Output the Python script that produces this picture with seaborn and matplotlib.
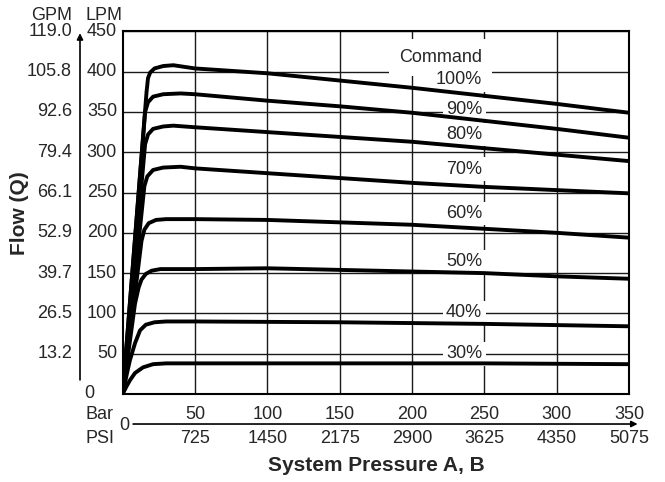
import pandas as pd
import matplotlib.pyplot as plt
import matplotlib.transforms as mtransforms
from matplotlib.patches import FancyArrowPatch
import seaborn as sns

# Axis ticks and labels
bar_ticks = [50, 100, 150, 200, 250, 300, 350]
psi_labels = ['725', '1450', '2175', '2900', '3625', '4350', '5075']
lpm_ticks = [50, 100, 150, 200, 250, 300, 350, 400, 450]
gpm_labels = ['13.2', '26.5', '39.7', '52.9', '66.1', '79.4', '92.6', '105.8', '119.0']

# Flow curves (Bar vs LPM), one per command level
x_30 = [0, 2.5, 5, 8.5, 14, 21, 30, 50, 150, 250, 350]
y_30 = [0, 9, 17, 26, 33, 37, 38, 38, 38, 38, 37]
x_40 = [0, 3, 5, 8.5, 12, 16, 22, 30, 50, 150, 250, 350]
y_40 = [0, 26, 42, 63, 79, 86, 89, 90, 90, 89, 87, 84]
x_50 = [0, 8.5, 11, 13, 16, 20, 26, 50, 100, 150, 200, 250, 300, 350]
y_50 = [0, 112, 132, 142, 149, 153, 155, 155, 156, 154, 152, 150, 146, 143]
x_60 = [0, 13, 15, 18, 23, 30, 50, 100, 150, 200, 250, 300, 350]
y_60 = [0, 190, 204, 212, 216, 217, 217, 216, 213, 210, 205, 200, 194]
x_70 = [0, 15, 17, 21, 28, 40, 50, 100, 150, 200, 250, 300, 350]
y_70 = [0, 258, 270, 278, 281, 282, 280, 274, 268, 262, 257, 253, 249]
x_80 = [0, 15.5, 17.5, 21, 28, 35, 50, 100, 150, 200, 250, 300, 350]
y_80 = [0, 310, 322, 329, 332, 333, 331, 325, 319, 313, 305, 297, 289]
x_90 = [0, 15.5, 17.5, 21, 28, 40, 50, 100, 150, 200, 250, 300, 350]
y_90 = [0, 350, 362, 369, 372, 373, 372, 364, 357, 349, 339, 329, 318]
x_100 = [0, 16.5, 17.5, 19, 22, 28, 35, 50, 100, 150, 200, 250, 300, 350]
y_100 = [0, 375, 392, 399, 404, 407, 408, 404, 398, 389, 380, 370, 360, 349]

commands = ['30%', '40%', '50%', '60%', '70%', '80%', '90%', '100%']
curves_x = [x_30, x_40, x_50, x_60, x_70, x_80, x_90, x_100]
curves_y = [y_30, y_40, y_50, y_60, y_70, y_80, y_90, y_100]
label_y = [50, 101, 164, 224, 279, 322, 353, 390]

rows = []
for cmd, xs, ys in zip(commands, curves_x, curves_y):
    for xv, yv in zip(xs, ys):
        rows.append({'command': cmd, 'pressure': xv, 'flow': yv})
df = pd.DataFrame(rows)

sns.set_theme(style='white')
plt.rcParams['font.family'] = ['Liberation Sans', 'DejaVu Sans']

fig = plt.figure(figsize=(6.65, 4.82), dpi=100)
ax = fig.add_axes([0.1845, 0.1826, 0.7615, 0.7523])

sns.lineplot(data=df, x='pressure', y='flow', hue='command',
             palette={c: 'black' for c in commands}, estimator=None,
             legend=False, linewidth=2.8, solid_joinstyle='round',
             solid_capstyle='round', ax=ax, zorder=3)

ax.set_xlim(0, 350)
ax.set_ylim(0, 450)
ax.set_xticks(bar_ticks)
ax.set_yticks(lpm_ticks)
ax.set_xticklabels([])
ax.set_yticklabels([])
ax.tick_params(length=0)
ax.set_xlabel('')
ax.set_ylabel('')
ax.grid(True, color='#1a1a1a', linewidth=1.0)
ax.set_axisbelow(True)
for sp in ax.spines.values():
    sp.set_color('black')
    sp.set_linewidth(1.5)

# Command labels with white boxes that break the grid
ax.text(219.5, 418, 'Command', ha='center', va='center', fontsize=13,
        bbox=dict(facecolor='white', edgecolor='none', boxstyle='square,pad=0.55'),
        zorder=2)
for cmd, yv in zip(commands, label_y):
    ax.text(248.5, yv, cmd, ha='right', va='center', fontsize=13,
            bbox=dict(facecolor='white', edgecolor='none', pad=2.5), zorder=2)

# Left axis: GPM and LPM columns
ty = mtransforms.blended_transform_factory(fig.transFigure, ax.transData)
for v, g in zip(lpm_ticks, gpm_labels):
    fig.text(0.1759, v, str(v), ha='right', va='center', fontsize=13, transform=ty)
    fig.text(0.1083, v, g, ha='right', va='center', fontsize=13, transform=ty)
fig.text(0.1338, 0, '0', ha='center', va='center', fontsize=13, transform=ty)
fig.text(0.1083, 0.967, 'GPM', ha='right', va='center', fontsize=13)
fig.text(0.1835, 0.967, 'LPM', ha='right', va='center', fontsize=13)
fig.patches.append(FancyArrowPatch(
    (0.1203, 0.206), (0.1203, 0.937), transform=fig.transFigure,
    arrowstyle='-|>', mutation_scale=9, color='black', linewidth=1.2))

# Bottom axis: Bar and PSI rows
tx = mtransforms.blended_transform_factory(ax.transData, fig.transFigure)
for b, p in zip(bar_ticks, psi_labels):
    fig.text(b, 0.1307, str(b), ha='center', va='baseline', fontsize=13, transform=tx)
    fig.text(b, 0.0809, p, ha='center', va='baseline', fontsize=13, transform=tx)
fig.text(0.129, 0.1307, 'Bar', ha='left', va='baseline', fontsize=13)
fig.text(0.129, 0.0809, 'PSI', ha='left', va='baseline', fontsize=13)
fig.text(0.1865, 0.118, '0', ha='center', va='center', fontsize=13)
fig.patches.append(FancyArrowPatch(
    (0.196, 0.1203), (0.963, 0.1203), transform=fig.transFigure,
    arrowstyle='-|>', mutation_scale=9, color='black', linewidth=1.2))

fig.text(0.030, 0.5587, 'Flow (Q)', rotation=90, ha='center', va='center',
         fontsize=15, fontweight='bold')
fig.text(0.5653, 0.0332, 'System Pressure A, B', ha='center', va='center',
         fontsize=15, fontweight='bold')

fig.savefig('out.png', dpi=100)
